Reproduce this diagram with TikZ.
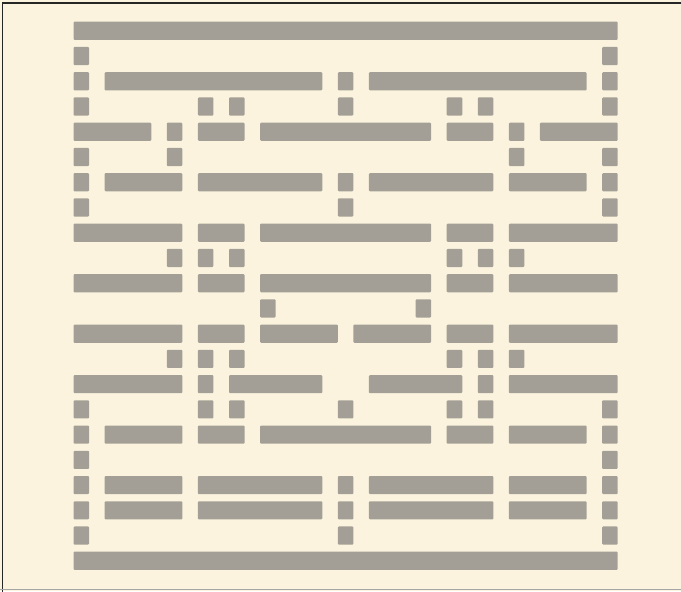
\documentclass[tikz,border=0pt]{standalone}
\usepackage{tikz}
\definecolor{paper}{RGB}{251,243,221}
\definecolor{stipple}{RGB}{163,159,150}

\begin{document}
\begin{tikzpicture}[x=15.55pt, y=-25.24pt,
  wall/.style={fill=stipple, rounded corners=1pt}]
  \fill[paper] (-4.727,-0.860) rectangle (39.068,22.556);
  \useasboundingbox (-4.727,-0.860) rectangle (39.068,22.556);
  % frame of the page
  \draw[line width=1.6pt, black!85] (-4.57,22.6) -- (-4.57,-0.74) -- (39.1,-0.74);
  \draw[line width=1.5pt, black!35] (-4.7,22.5) -- (39.1,22.5);
  % maze, one row at a time
  \fill[wall] (0,0) rectangle ++(35,.72);
  \fill[wall] (0,1) rectangle ++(1,.72) (34,1) rectangle ++(1,.72);
  \fill[wall] (0,2) rectangle ++(1,.72) (2,2) rectangle ++(14,.72) (17,2) rectangle ++(1,.72) (19,2) rectangle ++(14,.72) (34,2) rectangle ++(1,.72);
  \fill[wall] (0,3) rectangle ++(1,.72) (8,3) rectangle ++(1,.72) (10,3) rectangle ++(1,.72) (17,3) rectangle ++(1,.72) (24,3) rectangle ++(1,.72) (26,3) rectangle ++(1,.72) (34,3) rectangle ++(1,.72);
  \fill[wall] (0,4) rectangle ++(5,.72) (6,4) rectangle ++(1,.72) (8,4) rectangle ++(3,.72) (12,4) rectangle ++(11,.72) (24,4) rectangle ++(3,.72) (28,4) rectangle ++(1,.72) (30,4) rectangle ++(5,.72);
  \fill[wall] (0,5) rectangle ++(1,.72) (6,5) rectangle ++(1,.72) (28,5) rectangle ++(1,.72) (34,5) rectangle ++(1,.72);
  \fill[wall] (0,6) rectangle ++(1,.72) (2,6) rectangle ++(5,.72) (8,6) rectangle ++(8,.72) (17,6) rectangle ++(1,.72) (19,6) rectangle ++(8,.72) (28,6) rectangle ++(5,.72) (34,6) rectangle ++(1,.72);
  \fill[wall] (0,7) rectangle ++(1,.72) (17,7) rectangle ++(1,.72) (34,7) rectangle ++(1,.72);
  \fill[wall] (0,8) rectangle ++(7,.72) (8,8) rectangle ++(3,.72) (12,8) rectangle ++(11,.72) (24,8) rectangle ++(3,.72) (28,8) rectangle ++(7,.72);
  \fill[wall] (6,9) rectangle ++(1,.72) (8,9) rectangle ++(1,.72) (10,9) rectangle ++(1,.72) (24,9) rectangle ++(1,.72) (26,9) rectangle ++(1,.72) (28,9) rectangle ++(1,.72);
  \fill[wall] (0,10) rectangle ++(7,.72) (8,10) rectangle ++(3,.72) (12,10) rectangle ++(11,.72) (24,10) rectangle ++(3,.72) (28,10) rectangle ++(7,.72);
  \fill[wall] (12,11) rectangle ++(1,.72) (22,11) rectangle ++(1,.72);
  \fill[wall] (0,12) rectangle ++(7,.72) (8,12) rectangle ++(3,.72) (12,12) rectangle ++(5,.72) (18,12) rectangle ++(5,.72) (24,12) rectangle ++(3,.72) (28,12) rectangle ++(7,.72);
  \fill[wall] (6,13) rectangle ++(1,.72) (8,13) rectangle ++(1,.72) (10,13) rectangle ++(1,.72) (24,13) rectangle ++(1,.72) (26,13) rectangle ++(1,.72) (28,13) rectangle ++(1,.72);
  \fill[wall] (0,14) rectangle ++(7,.72) (8,14) rectangle ++(1,.72) (10,14) rectangle ++(6,.72) (19,14) rectangle ++(6,.72) (26,14) rectangle ++(1,.72) (28,14) rectangle ++(7,.72);
  \fill[wall] (0,15) rectangle ++(1,.72) (8,15) rectangle ++(1,.72) (10,15) rectangle ++(1,.72) (17,15) rectangle ++(1,.72) (24,15) rectangle ++(1,.72) (26,15) rectangle ++(1,.72) (34,15) rectangle ++(1,.72);
  \fill[wall] (0,16) rectangle ++(1,.72) (2,16) rectangle ++(5,.72) (8,16) rectangle ++(3,.72) (12,16) rectangle ++(11,.72) (24,16) rectangle ++(3,.72) (28,16) rectangle ++(5,.72) (34,16) rectangle ++(1,.72);
  \fill[wall] (0,17) rectangle ++(1,.72) (34,17) rectangle ++(1,.72);
  \fill[wall] (0,18) rectangle ++(1,.72) (2,18) rectangle ++(5,.72) (8,18) rectangle ++(8,.72) (17,18) rectangle ++(1,.72) (19,18) rectangle ++(8,.72) (28,18) rectangle ++(5,.72) (34,18) rectangle ++(1,.72);
  \fill[wall] (0,19) rectangle ++(1,.72) (2,19) rectangle ++(5,.72) (8,19) rectangle ++(8,.72) (17,19) rectangle ++(1,.72) (19,19) rectangle ++(8,.72) (28,19) rectangle ++(5,.72) (34,19) rectangle ++(1,.72);
  \fill[wall] (0,20) rectangle ++(1,.72) (17,20) rectangle ++(1,.72) (34,20) rectangle ++(1,.72);
  \fill[wall] (0,21) rectangle ++(35,.72);
\end{tikzpicture}
\end{document}
